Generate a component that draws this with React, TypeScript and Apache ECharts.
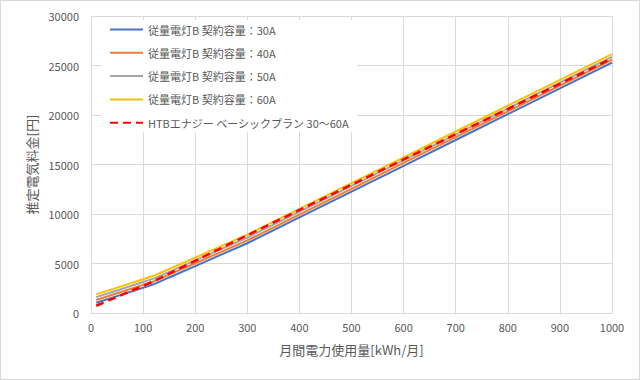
import React, { useEffect, useRef } from "react";
import * as echarts from "echarts";

const usage = [10, 50, 100, 120, 150, 200, 250, 300, 400, 500, 600, 700, 800, 900, 1000];
const seriesNames = [
  "従量電灯B 契約容量：30A",
  "従量電灯B 契約容量：40A",
  "従量電灯B 契約容量：50A",
  "従量電灯B 契約容量：60A",
  "HTBエナジー ベーシックプラン 30〜60A",
];
const b30 = [1028, 1708, 2558, 2898, 3590, 4742, 5895, 7047, 9654, 12261, 14868, 17475, 20082, 22689, 25296];
const b40 = [1314, 1994, 2844, 3184, 3876, 5028, 6181, 7333, 9940, 12547, 15154, 17761, 20368, 22975, 25582];
const b50 = [1600, 2280, 3130, 3470, 4162, 5314, 6467, 7619, 10226, 12833, 15440, 18047, 20654, 23261, 25868];
const b60 = [1886, 2566, 3416, 3756, 4448, 5600, 6753, 7905, 10512, 13119, 15726, 18333, 20940, 23547, 26154];
const htb = [730, 1626, 2746, 3194, 3971, 5266, 6561, 7856, 10406, 12956, 15506, 18056, 20606, 23156, 25706];
const colors = ["#4472C4", "#ED7D31", "#A5A5A5", "#FFC000", "#FF0000"];
const xAxisName = "月間電力使用量[kWh/月]";
const yAxisName = "推定電気料金[円]";

const FONT = "'Noto Sans CJK JP', 'Noto Sans', sans-serif";
const TXT = "#595959";
const GRID = "#d9d9d9";

export default function App() {
  const ref = useRef<HTMLDivElement>(null);
  useEffect(() => {
    document.body.style.margin = "0";
    if (!ref.current) return;
    const chart = echarts.init(ref.current, undefined, { renderer: "svg" });
    const all = [b30, b40, b50, b60, htb];
    chart.setOption({
      animation: false,
      textStyle: { fontFamily: FONT },
      grid: { left: 90, right: 27, top: 15, bottom: 66 },
      legend: {
        orient: "vertical",
        left: 100,
        top: 19,
        itemWidth: 33,
        itemHeight: 11,
        itemGap: 12.3,
        backgroundColor: "#fff",
        padding: [4, 8, 4, 8],
        itemStyle: { opacity: 0 },
        textStyle: { color: TXT, fontSize: 11, fontFamily: FONT },
        data: seriesNames,
      },
      xAxis: {
        type: "value",
        min: 0,
        max: 1000,
        interval: 100,
        name: xAxisName,
        nameLocation: "middle",
        nameGap: 30,
        nameTextStyle: { color: TXT, fontSize: 13, fontFamily: FONT },
        axisLine: { show: true, lineStyle: { color: GRID } },
        axisTick: { show: false },
        axisLabel: { color: TXT, fontSize: 11, margin: 8, formatter: (v: number) => String(v) },
        splitLine: { show: true, lineStyle: { color: GRID } },
      },
      yAxis: {
        type: "value",
        min: 0,
        max: 30000,
        interval: 5000,
        name: yAxisName,
        nameLocation: "middle",
        nameGap: 48,
        nameTextStyle: { color: TXT, fontSize: 13, fontFamily: FONT },
        axisLine: { show: true, lineStyle: { color: GRID } },
        axisTick: { show: false },
        axisLabel: { color: TXT, fontSize: 11, margin: 12, formatter: (v: number) => String(v) },
        splitLine: { show: true, lineStyle: { color: GRID } },
      },
      series: seriesNames.map((name, i) => ({
        name,
        type: "line",
        showSymbol: false,
        symbol: "none",
        z: 2 + i,
        data: usage.map((u, k) => [u, all[i][k]]),
        lineStyle: {
          color: colors[i],
          width: i === 4 ? 2.5 : 2,
          type: i === 4 ? [8, 5] : "solid",
        },
        itemStyle: { color: colors[i] },
      })),
    });
    return () => chart.dispose();
  }, []);
  return (
    <div
      ref={ref}
      style={{ width: 640, height: 380, border: "1px solid #d9d9d9", boxSizing: "border-box" }}
    />
  );
}
